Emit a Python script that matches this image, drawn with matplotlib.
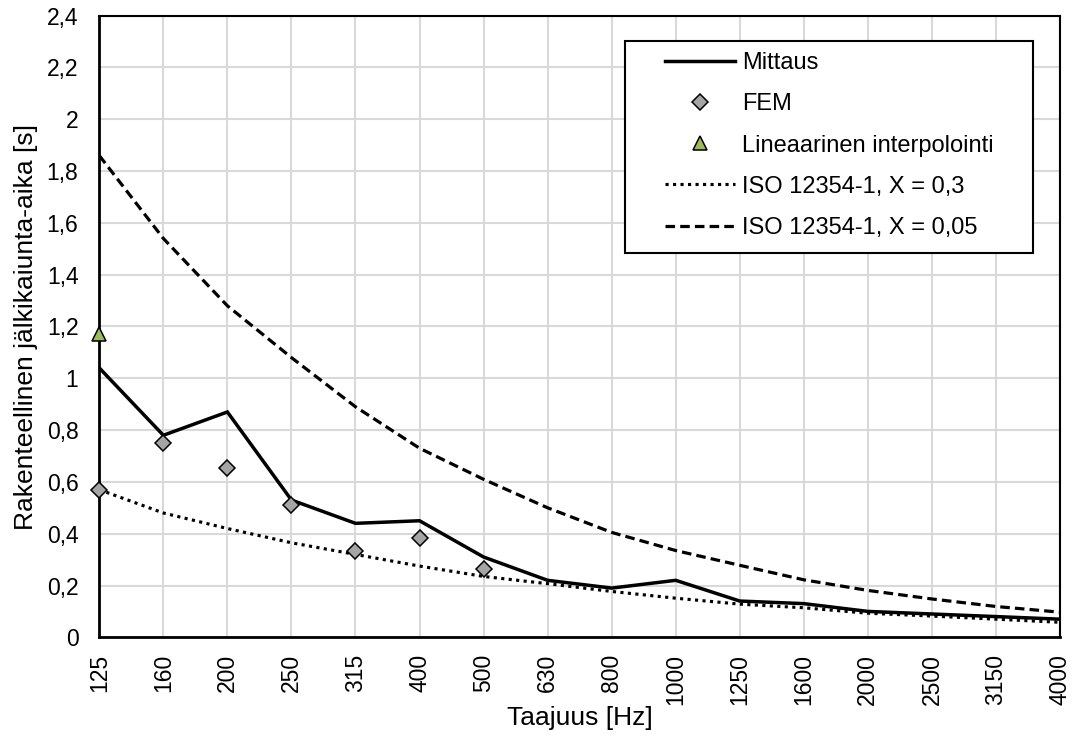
import matplotlib
matplotlib.use('Agg')
import matplotlib.pyplot as plt
from matplotlib.patches import Rectangle
from matplotlib.lines import Line2D

plt.rcParams['font.family'] = ['Liberation Sans', 'DejaVu Sans']

freqs = ['125', '160', '200', '250', '315', '400', '500', '630', '800',
         '1000', '1250', '1600', '2000', '2500', '3150', '4000']

mittaus = [1.04, 0.78, 0.87, 0.53, 0.44, 0.45, 0.31, 0.22, 0.19,
           0.22, 0.14, 0.13, 0.10, 0.09, 0.08, 0.07]
fem_freqs = ['125', '160', '200', '250', '315', '400', '500']
fem = [0.57, 0.75, 0.655, 0.51, 0.335, 0.385, 0.265]
interp_freqs = ['125']
interp = [1.17]
iso_03 = [0.57, 0.48, 0.42, 0.365, 0.32, 0.275, 0.235, 0.207, 0.177,
          0.151, 0.128, 0.114, 0.093, 0.082, 0.070, 0.058]
iso_005 = [1.86, 1.54, 1.28, 1.08, 0.89, 0.73, 0.61, 0.50, 0.405,
           0.335, 0.278, 0.222, 0.181, 0.148, 0.119, 0.097]

yticks = [0, 0.2, 0.4, 0.6, 0.8, 1.0, 1.2, 1.4, 1.6, 1.8, 2.0, 2.2, 2.4]
ytick_labels = ['0', '0,2', '0,4', '0,6', '0,8', '1', '1,2', '1,4', '1,6',
                '1,8', '2', '2,2', '2,4']

fig = plt.figure(figsize=(10.79, 7.38), dpi=100)
ax = fig.add_axes([99.3 / 1079, 1 - 637.3 / 738, (1060 - 99.3) / 1079, (637.3 - 15.7) / 738])

x = list(range(len(freqs)))
fx = [freqs.index(f) for f in fem_freqs]
ix = [freqs.index(f) for f in interp_freqs]

ax.plot(x, iso_005, color='black', lw=2.3, linestyle=(0, (3, 1.6)), zorder=3)
ax.plot(x, iso_03, color='black', lw=2.25, linestyle=(0, (1, 1.4)), zorder=3)
ax.plot(x, mittaus, color='black', lw=2.5, zorder=4, solid_joinstyle='miter')
ax.plot(fx, fem, linestyle='none', marker='D', ms=8.5, mfc='#a5a5a5', mec='black', mew=1.1, zorder=5, clip_on=False)
ax.plot(ix, interp, linestyle='none', marker='^', ms=10, mfc='#9bbb59', mec='black', mew=1.1, zorder=6, clip_on=False)

ax.set_xlim(0, len(freqs) - 1)
ax.set_ylim(0, 2.4)
ax.set_xticks(x)
ax.set_xticklabels(freqs, rotation=90, fontsize=16.5)
ax.set_yticks(yticks)
ax.set_yticklabels(ytick_labels, fontsize=16.5)
ax.tick_params(axis='both', length=0)
ax.tick_params(axis='x', pad=12)
ax.tick_params(axis='y', pad=15)
ax.grid(True, color='#d9d9d9', lw=1.5)
ax.set_axisbelow(True)
for side in ['left', 'bottom']:
    ax.spines[side].set_linewidth(2)
for side in ['top', 'right']:
    ax.spines[side].set_linewidth(1.5)

ax.set_xlabel('Taajuus [Hz]', fontsize=19, labelpad=1)
ax.set_ylabel('Rakenteellinen jälkikaiunta-aika [s]', fontsize=19, labelpad=6)

# legend frame drawn separately
ax.add_patch(Rectangle((0.547, 0.618), 0.972 - 0.547, 0.959 - 0.618, transform=ax.transAxes,
                       facecolor='white', edgecolor='black', lw=1.5, zorder=7, clip_on=False))
handles = [
    Line2D([], [], color='black', lw=2.5),
    Line2D([], [], linestyle='none', marker='D', ms=8, mfc='#a5a5a5', mec='black', mew=1.1),
    Line2D([], [], linestyle='none', marker='^', ms=10, mfc='#9bbb59', mec='black', mew=1.1),
    Line2D([], [], color='black', lw=2.25, linestyle=(0, (1, 1.4))),
    Line2D([], [], color='black', lw=2.3, linestyle=(0, (3, 1.6))),
]
labels = ['Mittaus', 'FEM', 'Lineaarinen interpolointi', 'ISO 12354-1, X = 0,3', 'ISO 12354-1, X = 0,05']
leg = ax.legend(handles, labels, loc='upper left', bbox_to_anchor=(0.589, 0.941), frameon=False,
                fontsize=17, handlelength=2.97, handletextpad=0.3, labelspacing=0.81,
                borderpad=0, borderaxespad=0)
leg.set_zorder(8)

fig.savefig('out.png', dpi=100)
